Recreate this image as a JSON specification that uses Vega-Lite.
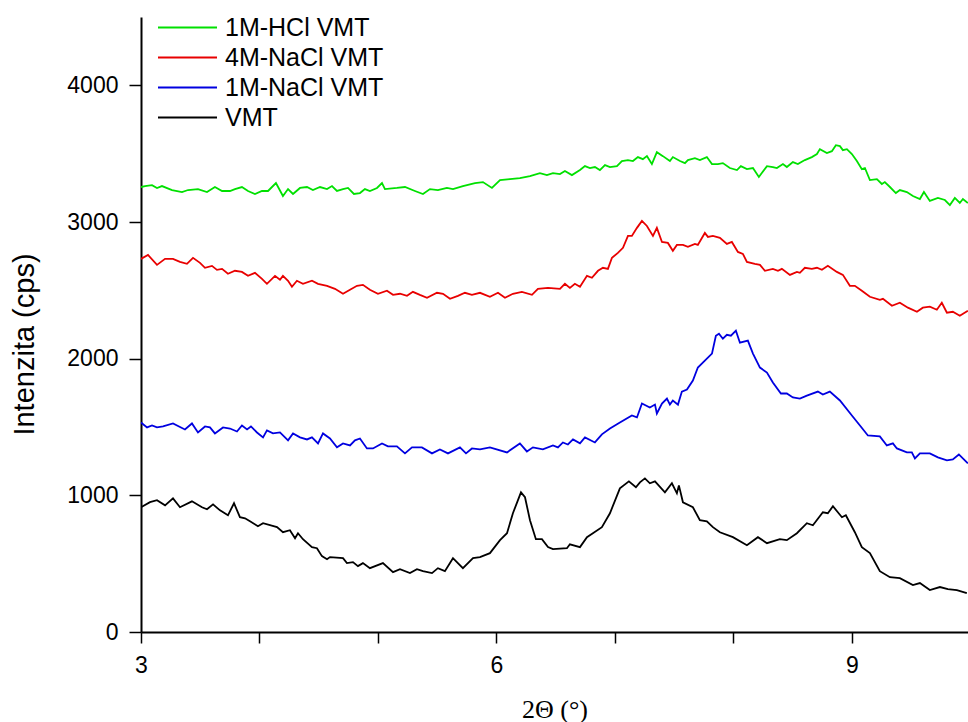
{
  "$schema": "https://vega.github.io/schema/vega-lite/v6.json",
  "autosize": {"type": "none"},
  "padding": {"left": 141, "top": 17, "right": 0, "bottom": 90},
  "width": 827,
  "height": 615,
  "background": "white",
  "config": {"view": {"stroke": null}, "font": "Liberation Sans"},
  "data": {"values": [
    {"s":"VMT","x":3.00,"y":913},{"s":"VMT","x":3.076,"y":950},{"s":"VMT","x":3.135,"y":964},{"s":"VMT","x":3.203,"y":927},{"s":"VMT","x":3.270,"y":978},{"s":"VMT","x":3.329,"y":913},{"s":"VMT","x":3.430,"y":956},{"s":"VMT","x":3.515,"y":913},{"s":"VMT","x":3.557,"y":898},{"s":"VMT","x":3.608,"y":934},{"s":"VMT","x":3.667,"y":890},{"s":"VMT","x":3.734,"y":854},{"s":"VMT","x":3.785,"y":942},{"s":"VMT","x":3.835,"y":840},{"s":"VMT","x":3.878,"y":832},{"s":"VMT","x":3.920,"y":810},{"s":"VMT","x":3.987,"y":774},{"s":"VMT","x":4.030,"y":796},{"s":"VMT","x":4.148,"y":767},{"s":"VMT","x":4.198,"y":730},{"s":"VMT","x":4.257,"y":745},{"s":"VMT","x":4.300,"y":686},{"s":"VMT","x":4.325,"y":723},{"s":"VMT","x":4.367,"y":679},{"s":"VMT","x":4.443,"y":621},{"s":"VMT","x":4.485,"y":613},{"s":"VMT","x":4.527,"y":555},{"s":"VMT","x":4.570,"y":533},{"s":"VMT","x":4.595,"y":548},{"s":"VMT","x":4.705,"y":540},{"s":"VMT","x":4.738,"y":504},{"s":"VMT","x":4.789,"y":511},{"s":"VMT","x":4.831,"y":482},{"s":"VMT","x":4.873,"y":504},{"s":"VMT","x":4.932,"y":467},{"s":"VMT","x":5.042,"y":504},{"s":"VMT","x":5.127,"y":438},{"s":"VMT","x":5.186,"y":460},{"s":"VMT","x":5.270,"y":431},{"s":"VMT","x":5.329,"y":460},{"s":"VMT","x":5.380,"y":445},{"s":"VMT","x":5.456,"y":431},{"s":"VMT","x":5.506,"y":467},{"s":"VMT","x":5.565,"y":445},{"s":"VMT","x":5.633,"y":540},{"s":"VMT","x":5.717,"y":467},{"s":"VMT","x":5.802,"y":540},{"s":"VMT","x":5.861,"y":548},{"s":"VMT","x":5.945,"y":577},{"s":"VMT","x":6.030,"y":672},{"s":"VMT","x":6.089,"y":723},{"s":"VMT","x":6.139,"y":869},{"s":"VMT","x":6.207,"y":1022},{"s":"VMT","x":6.241,"y":986},{"s":"VMT","x":6.283,"y":818},{"s":"VMT","x":6.333,"y":679},{"s":"VMT","x":6.384,"y":679},{"s":"VMT","x":6.435,"y":621},{"s":"VMT","x":6.477,"y":606},{"s":"VMT","x":6.595,"y":613},{"s":"VMT","x":6.620,"y":642},{"s":"VMT","x":6.705,"y":621},{"s":"VMT","x":6.764,"y":694},{"s":"VMT","x":6.814,"y":723},{"s":"VMT","x":6.890,"y":767},{"s":"VMT","x":6.958,"y":869},{"s":"VMT","x":7.042,"y":1051},{"s":"VMT","x":7.118,"y":1102},{"s":"VMT","x":7.177,"y":1059},{"s":"VMT","x":7.211,"y":1095},{"s":"VMT","x":7.253,"y":1124},{"s":"VMT","x":7.295,"y":1088},{"s":"VMT","x":7.338,"y":1102},{"s":"VMT","x":7.422,"y":1022},{"s":"VMT","x":7.481,"y":1088},{"s":"VMT","x":7.523,"y":1015},{"s":"VMT","x":7.540,"y":1073},{"s":"VMT","x":7.574,"y":949},{"s":"VMT","x":7.658,"y":913},{"s":"VMT","x":7.717,"y":818},{"s":"VMT","x":7.776,"y":810},{"s":"VMT","x":7.827,"y":767},{"s":"VMT","x":7.886,"y":730},{"s":"VMT","x":7.996,"y":694},{"s":"VMT","x":8.114,"y":635},{"s":"VMT","x":8.207,"y":694},{"s":"VMT","x":8.283,"y":650},{"s":"VMT","x":8.392,"y":679},{"s":"VMT","x":8.451,"y":672},{"s":"VMT","x":8.536,"y":723},{"s":"VMT","x":8.620,"y":796},{"s":"VMT","x":8.671,"y":781},{"s":"VMT","x":8.755,"y":876},{"s":"VMT","x":8.797,"y":869},{"s":"VMT","x":8.840,"y":920},{"s":"VMT","x":8.916,"y":840},{"s":"VMT","x":8.949,"y":854},{"s":"VMT","x":9.025,"y":730},{"s":"VMT","x":9.084,"y":621},{"s":"VMT","x":9.152,"y":577},{"s":"VMT","x":9.236,"y":445},{"s":"VMT","x":9.321,"y":401},{"s":"VMT","x":9.405,"y":394},{"s":"VMT","x":9.515,"y":343},{"s":"VMT","x":9.574,"y":358},{"s":"VMT","x":9.658,"y":307},{"s":"VMT","x":9.743,"y":329},{"s":"VMT","x":9.810,"y":314},{"s":"VMT","x":9.886,"y":307},{"s":"VMT","x":9.970,"y":285},

    {"s":"1M-NaCl VMT","x":3.00,"y":1533},{"s":"1M-NaCl VMT","x":3.051,"y":1497},{"s":"1M-NaCl VMT","x":3.093,"y":1511},{"s":"1M-NaCl VMT","x":3.135,"y":1497},{"s":"1M-NaCl VMT","x":3.186,"y":1504},{"s":"1M-NaCl VMT","x":3.270,"y":1526},{"s":"1M-NaCl VMT","x":3.371,"y":1482},{"s":"1M-NaCl VMT","x":3.430,"y":1526},{"s":"1M-NaCl VMT","x":3.481,"y":1460},{"s":"1M-NaCl VMT","x":3.540,"y":1504},{"s":"1M-NaCl VMT","x":3.582,"y":1497},{"s":"1M-NaCl VMT","x":3.624,"y":1453},{"s":"1M-NaCl VMT","x":3.692,"y":1497},{"s":"1M-NaCl VMT","x":3.751,"y":1489},{"s":"1M-NaCl VMT","x":3.810,"y":1467},{"s":"1M-NaCl VMT","x":3.852,"y":1511},{"s":"1M-NaCl VMT","x":3.895,"y":1482},{"s":"1M-NaCl VMT","x":3.928,"y":1504},{"s":"1M-NaCl VMT","x":3.979,"y":1460},{"s":"1M-NaCl VMT","x":4.030,"y":1424},{"s":"1M-NaCl VMT","x":4.063,"y":1475},{"s":"1M-NaCl VMT","x":4.114,"y":1453},{"s":"1M-NaCl VMT","x":4.173,"y":1460},{"s":"1M-NaCl VMT","x":4.241,"y":1402},{"s":"1M-NaCl VMT","x":4.283,"y":1453},{"s":"1M-NaCl VMT","x":4.342,"y":1424},{"s":"1M-NaCl VMT","x":4.401,"y":1409},{"s":"1M-NaCl VMT","x":4.443,"y":1424},{"s":"1M-NaCl VMT","x":4.494,"y":1380},{"s":"1M-NaCl VMT","x":4.536,"y":1453},{"s":"1M-NaCl VMT","x":4.595,"y":1416},{"s":"1M-NaCl VMT","x":4.654,"y":1351},{"s":"1M-NaCl VMT","x":4.705,"y":1380},{"s":"1M-NaCl VMT","x":4.764,"y":1365},{"s":"1M-NaCl VMT","x":4.806,"y":1402},{"s":"1M-NaCl VMT","x":4.848,"y":1416},{"s":"1M-NaCl VMT","x":4.907,"y":1343},{"s":"1M-NaCl VMT","x":4.958,"y":1343},{"s":"1M-NaCl VMT","x":5.034,"y":1380},{"s":"1M-NaCl VMT","x":5.084,"y":1358},{"s":"1M-NaCl VMT","x":5.160,"y":1358},{"s":"1M-NaCl VMT","x":5.228,"y":1307},{"s":"1M-NaCl VMT","x":5.287,"y":1351},{"s":"1M-NaCl VMT","x":5.371,"y":1351},{"s":"1M-NaCl VMT","x":5.456,"y":1307},{"s":"1M-NaCl VMT","x":5.523,"y":1336},{"s":"1M-NaCl VMT","x":5.591,"y":1307},{"s":"1M-NaCl VMT","x":5.692,"y":1351},{"s":"1M-NaCl VMT","x":5.743,"y":1307},{"s":"1M-NaCl VMT","x":5.793,"y":1343},{"s":"1M-NaCl VMT","x":5.861,"y":1336},{"s":"1M-NaCl VMT","x":5.945,"y":1351},{"s":"1M-NaCl VMT","x":6.089,"y":1314},{"s":"1M-NaCl VMT","x":6.198,"y":1380},{"s":"1M-NaCl VMT","x":6.257,"y":1321},{"s":"1M-NaCl VMT","x":6.308,"y":1351},{"s":"1M-NaCl VMT","x":6.392,"y":1336},{"s":"1M-NaCl VMT","x":6.477,"y":1365},{"s":"1M-NaCl VMT","x":6.519,"y":1351},{"s":"1M-NaCl VMT","x":6.561,"y":1387},{"s":"1M-NaCl VMT","x":6.603,"y":1372},{"s":"1M-NaCl VMT","x":6.646,"y":1409},{"s":"1M-NaCl VMT","x":6.705,"y":1380},{"s":"1M-NaCl VMT","x":6.747,"y":1424},{"s":"1M-NaCl VMT","x":6.831,"y":1387},{"s":"1M-NaCl VMT","x":6.890,"y":1446},{"s":"1M-NaCl VMT","x":6.958,"y":1489},{"s":"1M-NaCl VMT","x":7.042,"y":1533},{"s":"1M-NaCl VMT","x":7.143,"y":1584},{"s":"1M-NaCl VMT","x":7.186,"y":1570},{"s":"1M-NaCl VMT","x":7.228,"y":1672},{"s":"1M-NaCl VMT","x":7.295,"y":1643},{"s":"1M-NaCl VMT","x":7.338,"y":1664},{"s":"1M-NaCl VMT","x":7.354,"y":1599},{"s":"1M-NaCl VMT","x":7.397,"y":1672},{"s":"1M-NaCl VMT","x":7.439,"y":1708},{"s":"1M-NaCl VMT","x":7.464,"y":1664},{"s":"1M-NaCl VMT","x":7.489,"y":1694},{"s":"1M-NaCl VMT","x":7.532,"y":1664},{"s":"1M-NaCl VMT","x":7.565,"y":1759},{"s":"1M-NaCl VMT","x":7.608,"y":1774},{"s":"1M-NaCl VMT","x":7.658,"y":1840},{"s":"1M-NaCl VMT","x":7.700,"y":1935},{"s":"1M-NaCl VMT","x":7.759,"y":1986},{"s":"1M-NaCl VMT","x":7.819,"y":2037},{"s":"1M-NaCl VMT","x":7.852,"y":2168},{"s":"1M-NaCl VMT","x":7.878,"y":2183},{"s":"1M-NaCl VMT","x":7.911,"y":2146},{"s":"1M-NaCl VMT","x":7.945,"y":2175},{"s":"1M-NaCl VMT","x":7.979,"y":2168},{"s":"1M-NaCl VMT","x":8.021,"y":2205},{"s":"1M-NaCl VMT","x":8.055,"y":2117},{"s":"1M-NaCl VMT","x":8.122,"y":2132},{"s":"1M-NaCl VMT","x":8.165,"y":2037},{"s":"1M-NaCl VMT","x":8.224,"y":1935},{"s":"1M-NaCl VMT","x":8.283,"y":1898},{"s":"1M-NaCl VMT","x":8.333,"y":1825},{"s":"1M-NaCl VMT","x":8.401,"y":1745},{"s":"1M-NaCl VMT","x":8.451,"y":1745},{"s":"1M-NaCl VMT","x":8.502,"y":1716},{"s":"1M-NaCl VMT","x":8.561,"y":1708},{"s":"1M-NaCl VMT","x":8.620,"y":1730},{"s":"1M-NaCl VMT","x":8.713,"y":1759},{"s":"1M-NaCl VMT","x":8.755,"y":1737},{"s":"1M-NaCl VMT","x":8.814,"y":1759},{"s":"1M-NaCl VMT","x":8.899,"y":1694},{"s":"1M-NaCl VMT","x":9.000,"y":1584},{"s":"1M-NaCl VMT","x":9.068,"y":1511},{"s":"1M-NaCl VMT","x":9.135,"y":1438},{"s":"1M-NaCl VMT","x":9.236,"y":1431},{"s":"1M-NaCl VMT","x":9.295,"y":1365},{"s":"1M-NaCl VMT","x":9.346,"y":1380},{"s":"1M-NaCl VMT","x":9.380,"y":1343},{"s":"1M-NaCl VMT","x":9.464,"y":1314},{"s":"1M-NaCl VMT","x":9.506,"y":1314},{"s":"1M-NaCl VMT","x":9.532,"y":1270},{"s":"1M-NaCl VMT","x":9.574,"y":1307},{"s":"1M-NaCl VMT","x":9.658,"y":1307},{"s":"1M-NaCl VMT","x":9.726,"y":1278},{"s":"1M-NaCl VMT","x":9.802,"y":1256},{"s":"1M-NaCl VMT","x":9.852,"y":1263},{"s":"1M-NaCl VMT","x":9.903,"y":1299},{"s":"1M-NaCl VMT","x":9.979,"y":1234},

    {"s":"4M-NaCl VMT","x":3.00,"y":2730},{"s":"4M-NaCl VMT","x":3.059,"y":2759},{"s":"4M-NaCl VMT","x":3.135,"y":2686},{"s":"4M-NaCl VMT","x":3.203,"y":2730},{"s":"4M-NaCl VMT","x":3.270,"y":2730},{"s":"4M-NaCl VMT","x":3.329,"y":2708},{"s":"4M-NaCl VMT","x":3.388,"y":2694},{"s":"4M-NaCl VMT","x":3.439,"y":2738},{"s":"4M-NaCl VMT","x":3.498,"y":2701},{"s":"4M-NaCl VMT","x":3.540,"y":2665},{"s":"4M-NaCl VMT","x":3.599,"y":2679},{"s":"4M-NaCl VMT","x":3.641,"y":2650},{"s":"4M-NaCl VMT","x":3.684,"y":2657},{"s":"4M-NaCl VMT","x":3.734,"y":2621},{"s":"4M-NaCl VMT","x":3.793,"y":2643},{"s":"4M-NaCl VMT","x":3.852,"y":2635},{"s":"4M-NaCl VMT","x":3.903,"y":2606},{"s":"4M-NaCl VMT","x":3.962,"y":2628},{"s":"4M-NaCl VMT","x":4.021,"y":2584},{"s":"4M-NaCl VMT","x":4.063,"y":2548},{"s":"4M-NaCl VMT","x":4.131,"y":2606},{"s":"4M-NaCl VMT","x":4.173,"y":2577},{"s":"4M-NaCl VMT","x":4.198,"y":2606},{"s":"4M-NaCl VMT","x":4.241,"y":2570},{"s":"4M-NaCl VMT","x":4.274,"y":2526},{"s":"4M-NaCl VMT","x":4.316,"y":2570},{"s":"4M-NaCl VMT","x":4.367,"y":2548},{"s":"4M-NaCl VMT","x":4.443,"y":2570},{"s":"4M-NaCl VMT","x":4.494,"y":2548},{"s":"4M-NaCl VMT","x":4.570,"y":2533},{"s":"4M-NaCl VMT","x":4.637,"y":2511},{"s":"4M-NaCl VMT","x":4.705,"y":2475},{"s":"4M-NaCl VMT","x":4.764,"y":2504},{"s":"4M-NaCl VMT","x":4.823,"y":2533},{"s":"4M-NaCl VMT","x":4.873,"y":2540},{"s":"4M-NaCl VMT","x":4.932,"y":2504},{"s":"4M-NaCl VMT","x":5.000,"y":2475},{"s":"4M-NaCl VMT","x":5.076,"y":2497},{"s":"4M-NaCl VMT","x":5.127,"y":2467},{"s":"4M-NaCl VMT","x":5.186,"y":2475},{"s":"4M-NaCl VMT","x":5.245,"y":2460},{"s":"4M-NaCl VMT","x":5.295,"y":2489},{"s":"4M-NaCl VMT","x":5.354,"y":2467},{"s":"4M-NaCl VMT","x":5.414,"y":2446},{"s":"4M-NaCl VMT","x":5.498,"y":2482},{"s":"4M-NaCl VMT","x":5.549,"y":2475},{"s":"4M-NaCl VMT","x":5.608,"y":2438},{"s":"4M-NaCl VMT","x":5.675,"y":2460},{"s":"4M-NaCl VMT","x":5.734,"y":2482},{"s":"4M-NaCl VMT","x":5.793,"y":2467},{"s":"4M-NaCl VMT","x":5.861,"y":2482},{"s":"4M-NaCl VMT","x":5.945,"y":2453},{"s":"4M-NaCl VMT","x":6.013,"y":2482},{"s":"4M-NaCl VMT","x":6.072,"y":2446},{"s":"4M-NaCl VMT","x":6.139,"y":2475},{"s":"4M-NaCl VMT","x":6.215,"y":2489},{"s":"4M-NaCl VMT","x":6.300,"y":2467},{"s":"4M-NaCl VMT","x":6.350,"y":2511},{"s":"4M-NaCl VMT","x":6.435,"y":2518},{"s":"4M-NaCl VMT","x":6.536,"y":2511},{"s":"4M-NaCl VMT","x":6.578,"y":2548},{"s":"4M-NaCl VMT","x":6.620,"y":2518},{"s":"4M-NaCl VMT","x":6.662,"y":2548},{"s":"4M-NaCl VMT","x":6.705,"y":2526},{"s":"4M-NaCl VMT","x":6.764,"y":2606},{"s":"4M-NaCl VMT","x":6.806,"y":2592},{"s":"4M-NaCl VMT","x":6.857,"y":2643},{"s":"4M-NaCl VMT","x":6.899,"y":2665},{"s":"4M-NaCl VMT","x":6.941,"y":2657},{"s":"4M-NaCl VMT","x":6.975,"y":2738},{"s":"4M-NaCl VMT","x":7.025,"y":2774},{"s":"4M-NaCl VMT","x":7.068,"y":2811},{"s":"4M-NaCl VMT","x":7.110,"y":2898},{"s":"4M-NaCl VMT","x":7.143,"y":2898},{"s":"4M-NaCl VMT","x":7.186,"y":2957},{"s":"4M-NaCl VMT","x":7.228,"y":3008},{"s":"4M-NaCl VMT","x":7.270,"y":2971},{"s":"4M-NaCl VMT","x":7.321,"y":2898},{"s":"4M-NaCl VMT","x":7.354,"y":2957},{"s":"4M-NaCl VMT","x":7.397,"y":2854},{"s":"4M-NaCl VMT","x":7.447,"y":2847},{"s":"4M-NaCl VMT","x":7.489,"y":2789},{"s":"4M-NaCl VMT","x":7.523,"y":2832},{"s":"4M-NaCl VMT","x":7.574,"y":2832},{"s":"4M-NaCl VMT","x":7.616,"y":2818},{"s":"4M-NaCl VMT","x":7.675,"y":2840},{"s":"4M-NaCl VMT","x":7.700,"y":2832},{"s":"4M-NaCl VMT","x":7.759,"y":2920},{"s":"4M-NaCl VMT","x":7.785,"y":2891},{"s":"4M-NaCl VMT","x":7.827,"y":2898},{"s":"4M-NaCl VMT","x":7.886,"y":2884},{"s":"4M-NaCl VMT","x":7.945,"y":2840},{"s":"4M-NaCl VMT","x":7.987,"y":2854},{"s":"4M-NaCl VMT","x":8.038,"y":2781},{"s":"4M-NaCl VMT","x":8.080,"y":2767},{"s":"4M-NaCl VMT","x":8.114,"y":2708},{"s":"4M-NaCl VMT","x":8.181,"y":2694},{"s":"4M-NaCl VMT","x":8.224,"y":2686},{"s":"4M-NaCl VMT","x":8.266,"y":2643},{"s":"4M-NaCl VMT","x":8.333,"y":2657},{"s":"4M-NaCl VMT","x":8.376,"y":2643},{"s":"4M-NaCl VMT","x":8.409,"y":2657},{"s":"4M-NaCl VMT","x":8.477,"y":2613},{"s":"4M-NaCl VMT","x":8.536,"y":2635},{"s":"4M-NaCl VMT","x":8.561,"y":2628},{"s":"4M-NaCl VMT","x":8.603,"y":2665},{"s":"4M-NaCl VMT","x":8.662,"y":2657},{"s":"4M-NaCl VMT","x":8.705,"y":2665},{"s":"4M-NaCl VMT","x":8.747,"y":2650},{"s":"4M-NaCl VMT","x":8.797,"y":2679},{"s":"4M-NaCl VMT","x":8.873,"y":2635},{"s":"4M-NaCl VMT","x":8.924,"y":2613},{"s":"4M-NaCl VMT","x":8.983,"y":2533},{"s":"4M-NaCl VMT","x":9.025,"y":2533},{"s":"4M-NaCl VMT","x":9.084,"y":2497},{"s":"4M-NaCl VMT","x":9.152,"y":2453},{"s":"4M-NaCl VMT","x":9.236,"y":2431},{"s":"4M-NaCl VMT","x":9.262,"y":2438},{"s":"4M-NaCl VMT","x":9.338,"y":2387},{"s":"4M-NaCl VMT","x":9.405,"y":2409},{"s":"4M-NaCl VMT","x":9.473,"y":2373},{"s":"4M-NaCl VMT","x":9.549,"y":2343},{"s":"4M-NaCl VMT","x":9.599,"y":2373},{"s":"4M-NaCl VMT","x":9.658,"y":2380},{"s":"4M-NaCl VMT","x":9.717,"y":2358},{"s":"4M-NaCl VMT","x":9.759,"y":2409},{"s":"4M-NaCl VMT","x":9.802,"y":2336},{"s":"4M-NaCl VMT","x":9.852,"y":2343},{"s":"4M-NaCl VMT","x":9.911,"y":2314},{"s":"4M-NaCl VMT","x":9.979,"y":2351},

    {"s":"1M-HCl VMT","x":3.00,"y":3256},{"s":"1M-HCl VMT","x":3.034,"y":3263},{"s":"1M-HCl VMT","x":3.093,"y":3270},{"s":"1M-HCl VMT","x":3.135,"y":3249},{"s":"1M-HCl VMT","x":3.177,"y":3263},{"s":"1M-HCl VMT","x":3.262,"y":3234},{"s":"1M-HCl VMT","x":3.346,"y":3219},{"s":"1M-HCl VMT","x":3.397,"y":3234},{"s":"1M-HCl VMT","x":3.481,"y":3241},{"s":"1M-HCl VMT","x":3.557,"y":3219},{"s":"1M-HCl VMT","x":3.624,"y":3256},{"s":"1M-HCl VMT","x":3.684,"y":3227},{"s":"1M-HCl VMT","x":3.751,"y":3227},{"s":"1M-HCl VMT","x":3.793,"y":3241},{"s":"1M-HCl VMT","x":3.852,"y":3256},{"s":"1M-HCl VMT","x":3.903,"y":3227},{"s":"1M-HCl VMT","x":3.962,"y":3205},{"s":"1M-HCl VMT","x":4.021,"y":3227},{"s":"1M-HCl VMT","x":4.072,"y":3227},{"s":"1M-HCl VMT","x":4.139,"y":3285},{"s":"1M-HCl VMT","x":4.198,"y":3190},{"s":"1M-HCl VMT","x":4.241,"y":3241},{"s":"1M-HCl VMT","x":4.283,"y":3205},{"s":"1M-HCl VMT","x":4.342,"y":3249},{"s":"1M-HCl VMT","x":4.401,"y":3256},{"s":"1M-HCl VMT","x":4.451,"y":3234},{"s":"1M-HCl VMT","x":4.511,"y":3256},{"s":"1M-HCl VMT","x":4.570,"y":3241},{"s":"1M-HCl VMT","x":4.612,"y":3263},{"s":"1M-HCl VMT","x":4.654,"y":3227},{"s":"1M-HCl VMT","x":4.705,"y":3241},{"s":"1M-HCl VMT","x":4.747,"y":3249},{"s":"1M-HCl VMT","x":4.797,"y":3205},{"s":"1M-HCl VMT","x":4.848,"y":3212},{"s":"1M-HCl VMT","x":4.890,"y":3241},{"s":"1M-HCl VMT","x":4.932,"y":3227},{"s":"1M-HCl VMT","x":4.992,"y":3249},{"s":"1M-HCl VMT","x":5.034,"y":3285},{"s":"1M-HCl VMT","x":5.059,"y":3241},{"s":"1M-HCl VMT","x":5.160,"y":3249},{"s":"1M-HCl VMT","x":5.228,"y":3256},{"s":"1M-HCl VMT","x":5.312,"y":3227},{"s":"1M-HCl VMT","x":5.380,"y":3205},{"s":"1M-HCl VMT","x":5.439,"y":3241},{"s":"1M-HCl VMT","x":5.506,"y":3234},{"s":"1M-HCl VMT","x":5.582,"y":3249},{"s":"1M-HCl VMT","x":5.633,"y":3241},{"s":"1M-HCl VMT","x":5.717,"y":3263},{"s":"1M-HCl VMT","x":5.819,"y":3285},{"s":"1M-HCl VMT","x":5.886,"y":3292},{"s":"1M-HCl VMT","x":5.962,"y":3249},{"s":"1M-HCl VMT","x":6.030,"y":3307},{"s":"1M-HCl VMT","x":6.114,"y":3314},{"s":"1M-HCl VMT","x":6.198,"y":3321},{"s":"1M-HCl VMT","x":6.283,"y":3336},{"s":"1M-HCl VMT","x":6.367,"y":3358},{"s":"1M-HCl VMT","x":6.426,"y":3343},{"s":"1M-HCl VMT","x":6.477,"y":3358},{"s":"1M-HCl VMT","x":6.536,"y":3351},{"s":"1M-HCl VMT","x":6.578,"y":3373},{"s":"1M-HCl VMT","x":6.637,"y":3343},{"s":"1M-HCl VMT","x":6.705,"y":3380},{"s":"1M-HCl VMT","x":6.747,"y":3409},{"s":"1M-HCl VMT","x":6.789,"y":3395},{"s":"1M-HCl VMT","x":6.831,"y":3402},{"s":"1M-HCl VMT","x":6.873,"y":3380},{"s":"1M-HCl VMT","x":6.916,"y":3416},{"s":"1M-HCl VMT","x":6.958,"y":3402},{"s":"1M-HCl VMT","x":7.017,"y":3409},{"s":"1M-HCl VMT","x":7.059,"y":3446},{"s":"1M-HCl VMT","x":7.110,"y":3453},{"s":"1M-HCl VMT","x":7.152,"y":3446},{"s":"1M-HCl VMT","x":7.194,"y":3475},{"s":"1M-HCl VMT","x":7.236,"y":3460},{"s":"1M-HCl VMT","x":7.270,"y":3482},{"s":"1M-HCl VMT","x":7.312,"y":3424},{"s":"1M-HCl VMT","x":7.354,"y":3511},{"s":"1M-HCl VMT","x":7.405,"y":3482},{"s":"1M-HCl VMT","x":7.464,"y":3446},{"s":"1M-HCl VMT","x":7.489,"y":3475},{"s":"1M-HCl VMT","x":7.549,"y":3446},{"s":"1M-HCl VMT","x":7.591,"y":3431},{"s":"1M-HCl VMT","x":7.616,"y":3453},{"s":"1M-HCl VMT","x":7.675,"y":3467},{"s":"1M-HCl VMT","x":7.717,"y":3453},{"s":"1M-HCl VMT","x":7.776,"y":3475},{"s":"1M-HCl VMT","x":7.819,"y":3424},{"s":"1M-HCl VMT","x":7.869,"y":3424},{"s":"1M-HCl VMT","x":7.911,"y":3431},{"s":"1M-HCl VMT","x":7.970,"y":3395},{"s":"1M-HCl VMT","x":8.030,"y":3380},{"s":"1M-HCl VMT","x":8.063,"y":3409},{"s":"1M-HCl VMT","x":8.114,"y":3387},{"s":"1M-HCl VMT","x":8.165,"y":3395},{"s":"1M-HCl VMT","x":8.215,"y":3329},{"s":"1M-HCl VMT","x":8.283,"y":3409},{"s":"1M-HCl VMT","x":8.333,"y":3402},{"s":"1M-HCl VMT","x":8.367,"y":3395},{"s":"1M-HCl VMT","x":8.418,"y":3424},{"s":"1M-HCl VMT","x":8.451,"y":3402},{"s":"1M-HCl VMT","x":8.502,"y":3438},{"s":"1M-HCl VMT","x":8.544,"y":3424},{"s":"1M-HCl VMT","x":8.603,"y":3453},{"s":"1M-HCl VMT","x":8.662,"y":3475},{"s":"1M-HCl VMT","x":8.705,"y":3497},{"s":"1M-HCl VMT","x":8.730,"y":3533},{"s":"1M-HCl VMT","x":8.789,"y":3504},{"s":"1M-HCl VMT","x":8.831,"y":3518},{"s":"1M-HCl VMT","x":8.865,"y":3562},{"s":"1M-HCl VMT","x":8.899,"y":3555},{"s":"1M-HCl VMT","x":8.924,"y":3526},{"s":"1M-HCl VMT","x":8.958,"y":3533},{"s":"1M-HCl VMT","x":9.000,"y":3497},{"s":"1M-HCl VMT","x":9.042,"y":3446},{"s":"1M-HCl VMT","x":9.084,"y":3387},{"s":"1M-HCl VMT","x":9.110,"y":3395},{"s":"1M-HCl VMT","x":9.152,"y":3307},{"s":"1M-HCl VMT","x":9.211,"y":3314},{"s":"1M-HCl VMT","x":9.253,"y":3278},{"s":"1M-HCl VMT","x":9.278,"y":3292},{"s":"1M-HCl VMT","x":9.321,"y":3256},{"s":"1M-HCl VMT","x":9.371,"y":3212},{"s":"1M-HCl VMT","x":9.405,"y":3234},{"s":"1M-HCl VMT","x":9.464,"y":3219},{"s":"1M-HCl VMT","x":9.515,"y":3190},{"s":"1M-HCl VMT","x":9.574,"y":3168},{"s":"1M-HCl VMT","x":9.608,"y":3219},{"s":"1M-HCl VMT","x":9.658,"y":3154},{"s":"1M-HCl VMT","x":9.726,"y":3176},{"s":"1M-HCl VMT","x":9.785,"y":3161},{"s":"1M-HCl VMT","x":9.827,"y":3124},{"s":"1M-HCl VMT","x":9.869,"y":3176},{"s":"1M-HCl VMT","x":9.911,"y":3139},{"s":"1M-HCl VMT","x":9.937,"y":3168},{"s":"1M-HCl VMT","x":9.979,"y":3139}
  ]},
  "mark": {"type": "line", "strokeWidth": 1.8, "clip": true, "interpolate": "linear"},
  "encoding": {
    "x": {
      "field": "x", "type": "quantitative",
      "scale": {"domain": [3, 9.98], "nice": false, "zero": false},
      "axis": {
        "values": [3, 4, 5, 6, 7, 8, 9],
        "labelExpr": "datum.value % 3 === 0 ? datum.label : ''",
        "grid": false,
        "title": "2Θ (°)",
        "titleFont": "Liberation Serif", "titleFontSize": 26, "titleFontWeight": "normal", "titleColor": "#000000",
        "titleBaseline": "alphabetic", "titleY": 85,
        "labelFont": "Liberation Sans", "labelFontSize": 23, "labelColor": "#000000",
        "labelBaseline": "alphabetic", "labelPadding": 29, "labelFlush": false,
        "tickSize": 11, "tickColor": "#000000", "tickWidth": 1.5,
        "domainColor": "#000000", "domainWidth": 2,
        "encode": {"ticks": {"update": {"y2": {"signal": "datum.value % 3 === 0 ? 11 : 6"}}}}
      }
    },
    "y": {
      "field": "y", "type": "quantitative",
      "scale": {"domain": [0, 4500], "nice": false},
      "axis": {
        "values": [0, 1000, 2000, 3000, 4000],
        "format": "d",
        "grid": false,
        "title": "Intenzita (cps)",
        "titleFont": "Liberation Sans", "titleFontSize": 29, "titleFontWeight": "normal", "titleColor": "#000000",
        "titleAngle": -90, "titleBaseline": "alphabetic", "titleAlign": "center", "titleX": -108, "titleY": 327,
        "labelFont": "Liberation Sans", "labelFontSize": 23, "labelColor": "#000000", "labelPadding": 11,
        "tickSize": 12, "tickColor": "#000000", "tickWidth": 1.5,
        "domainColor": "#000000", "domainWidth": 2
      }
    },
    "color": {
      "field": "s", "type": "nominal",
      "scale": {"domain": ["1M-HCl VMT", "4M-NaCl VMT", "1M-NaCl VMT", "VMT"], "range": ["#00e000", "#e80000", "#0000e0", "#000000"]},
      "legend": {
        "title": null, "orient": "none", "legendX": 16, "legendY": -4.5,
        "symbolType": "stroke", "symbolSize": 3481, "symbolStrokeWidth": 2,
        "labelFont": "Liberation Sans", "labelFontSize": 25, "labelColor": "#000000", "labelOffset": 7, "labelLimit": 300,
        "clipHeight": 30, "rowPadding": 0, "padding": 0
      }
    }
  }
}
